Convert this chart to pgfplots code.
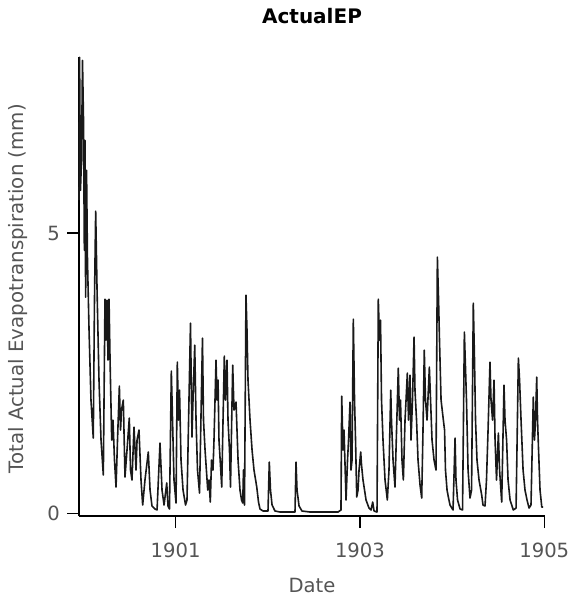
\documentclass[border=0pt]{standalone}
\usepackage{pgfplots}
\pgfplotsset{compat=1.18}
\usepackage{fontspec}
\setmainfont{DejaVu Sans}
\definecolor{txtgray}{RGB}{85,85,85}
\begin{document}
\begin{tikzpicture}
\begin{axis}[
  at={(0,0)}, anchor=south west,
  scale only axis,
  width=233pt, height=229.5pt,
  xmin=1899.951, xmax=1905.008,
  ymin=-0.048, ymax=8.14,
  axis x line=bottom, axis y line=left,
  axis line style={-, line width=0.7pt, black},
  xtick={1901,1903,1905}, ytick={0,5},
  tick align=outside,
  major tick length=6pt,
  tick style={line width=0.7pt, black},
  /pgf/number format/assume math mode=true,
  /pgf/number format/1000 sep={},
  ticklabel style={font=\fontsize{9.8}{11}\selectfont, text=txtgray},
  xticklabel style={yshift=-4pt},
  title={ActualEP},
  title style={font=\fontsize{10}{12}\selectfont\bfseries, at={(axis description cs:0.5,1)}, anchor=center, yshift=14.5pt},
  xlabel={Date},
  xlabel style={font=\fontsize{9.8}{11}\selectfont, text=txtgray, at={(axis description cs:0.5,0)}, anchor=center, yshift=-34.5pt},
  ylabel={Total Actual Evapotranspiration (mm)},
  ylabel style={font=\fontsize{9.9}{11}\selectfont, text=txtgray, at={(axis description cs:0,0.495)}, anchor=center, yshift=30.5pt},
  clip=false,
]
\addplot[black!90, line width=0.8pt, line join=round] coordinates {
(1899.951,5.585) (1899.957,8.134) (1899.967,5.763) (1899.978,6.298) (1899.989,8.080)
(1900.000,7.011) (1900.009,4.693) (1900.016,6.654) (1900.023,3.856) (1900.033,6.119)
(1900.043,4.515) (1900.060,3.267) (1900.081,2.020) (1900.106,1.342) (1900.119,3.802)
(1900.132,5.389) (1900.147,3.980) (1900.168,2.376) (1900.190,1.307) (1900.215,0.683)
(1900.233,3.820) (1900.244,3.089) (1900.255,3.802) (1900.266,2.733) (1900.277,3.820)
(1900.288,2.733) (1900.306,1.307) (1900.320,1.663) (1900.336,0.950) (1900.353,0.469)
(1900.369,1.307) (1900.389,2.269) (1900.402,1.485) (1900.412,1.841) (1900.432,2.020)
(1900.450,0.647) (1900.472,1.128) (1900.497,1.699) (1900.510,0.772) (1900.526,0.594)
(1900.548,1.538) (1900.570,0.772) (1900.581,1.307) (1900.602,1.485) (1900.624,0.594)
(1900.642,0.148) (1900.667,0.594) (1900.703,1.093) (1900.722,0.415) (1900.743,0.130)
(1900.776,0.077) (1900.798,0.059) (1900.830,1.253) (1900.852,0.415) (1900.874,0.148)
(1900.903,0.540) (1900.917,0.130) (1900.933,0.077) (1900.953,2.537) (1900.966,1.663)
(1900.982,0.594) (1901.004,0.184) (1901.018,2.697) (1901.031,1.663) (1901.042,2.198)
(1901.058,0.950) (1901.080,0.415) (1901.107,0.148) (1901.123,0.237) (1901.161,3.392)
(1901.177,1.360) (1901.188,2.020) (1901.207,3.000) (1901.221,1.663) (1901.237,0.772)
(1901.259,0.362) (1901.291,3.125) (1901.302,1.663) (1901.319,1.128) (1901.348,0.415)
(1901.362,0.594) (1901.376,0.201) (1901.389,0.950) (1901.405,0.772) (1901.416,1.307)
(1901.438,2.733) (1901.449,2.020) (1901.460,2.376) (1901.470,1.307) (1901.500,0.469)
(1901.514,1.663) (1901.528,2.804) (1901.541,2.020) (1901.557,2.733) (1901.568,1.663)
(1901.584,1.128) (1901.595,0.469) (1901.619,2.643) (1901.633,1.841) (1901.655,1.984)
(1901.677,0.950) (1901.698,0.415) (1901.715,0.237) (1901.728,0.184) (1901.736,0.772)
(1901.747,0.148) (1901.763,3.891) (1901.774,3.267) (1901.785,2.376) (1901.807,1.663)
(1901.829,1.128) (1901.850,0.772) (1901.880,0.469) (1901.899,0.201) (1901.915,0.077)
(1901.948,0.041) (1901.981,0.041) (1902.002,0.041) (1902.016,0.914) (1902.029,0.415)
(1902.046,0.148) (1902.078,0.041) (1902.132,0.023) (1902.295,0.023) (1902.306,0.914)
(1902.317,0.415) (1902.339,0.130) (1902.371,0.041) (1902.458,0.023) (1902.762,0.023)
(1902.794,0.059) (1902.802,2.091) (1902.816,1.128) (1902.827,1.485) (1902.849,0.237)
(1902.865,0.950) (1902.876,1.307) (1902.892,1.984) (1902.903,0.772) (1902.914,0.950)
(1902.928,3.463) (1902.941,2.020) (1902.952,1.307) (1902.965,0.291) (1902.979,0.415)
(1902.990,0.772) (1903.008,1.093) (1903.017,0.861) (1903.033,0.594) (1903.066,0.237)
(1903.098,0.094) (1903.120,0.059) (1903.138,0.201) (1903.153,0.041) (1903.185,0.023)
(1903.199,3.820) (1903.212,3.089) (1903.223,3.446) (1903.234,2.020) (1903.250,1.307)
(1903.272,0.594) (1903.297,0.237) (1903.315,0.772) (1903.334,2.198) (1903.342,1.663)
(1903.359,0.950) (1903.380,0.469) (1903.397,1.485) (1903.416,2.590) (1903.429,1.663)
(1903.440,2.020) (1903.456,0.950) (1903.471,0.594) (1903.489,1.663) (1903.500,2.020)
(1903.514,2.501) (1903.527,1.663) (1903.543,2.465) (1903.554,1.307) (1903.570,2.020)
(1903.587,3.143) (1903.597,2.198) (1903.614,1.663) (1903.630,0.950) (1903.652,0.504)
(1903.670,0.273) (1903.684,1.485) (1903.698,2.911) (1903.711,2.020) (1903.728,1.663)
(1903.753,2.608) (1903.766,2.020) (1903.782,1.307) (1903.804,0.950) (1903.825,0.772)
(1903.840,4.569) (1903.853,3.802) (1903.863,3.089) (1903.880,2.020) (1903.905,1.663)
(1903.918,1.485) (1903.928,0.772) (1903.945,0.415) (1903.959,0.291) (1903.977,0.148)
(1904.010,0.059) (1904.032,1.342) (1904.042,0.594) (1904.059,0.237) (1904.086,0.077)
(1904.113,0.059) (1904.133,3.232) (1904.146,2.554) (1904.156,2.020) (1904.173,0.772)
(1904.194,0.273) (1904.211,0.415) (1904.230,3.749) (1904.243,2.733) (1904.254,1.663)
(1904.270,0.950) (1904.292,0.594) (1904.321,0.326) (1904.335,0.148) (1904.357,0.130)
(1904.373,0.594) (1904.390,1.485) (1904.411,2.697) (1904.422,2.020) (1904.439,1.663)
(1904.455,2.376) (1904.466,1.307) (1904.482,0.594) (1904.502,1.431) (1904.515,0.772)
(1904.538,0.201) (1904.563,2.287) (1904.574,1.663) (1904.591,1.307) (1904.607,0.594)
(1904.629,0.237) (1904.664,0.059) (1904.694,0.094) (1904.719,2.768) (1904.732,2.376)
(1904.748,1.663) (1904.770,0.772) (1904.791,0.415) (1904.813,0.237) (1904.835,0.094)
(1904.856,0.148) (1904.881,2.073) (1904.894,1.307) (1904.905,1.663) (1904.918,2.430)
(1904.927,1.663) (1904.938,1.128) (1904.954,0.415) (1904.973,0.112) (1904.987,0.112)
};
\end{axis}
\pgfresetboundingbox
\useasboundingbox (-39.5pt,-41.5pt) rectangle (245pt,258pt);
\end{tikzpicture}
\end{document}
